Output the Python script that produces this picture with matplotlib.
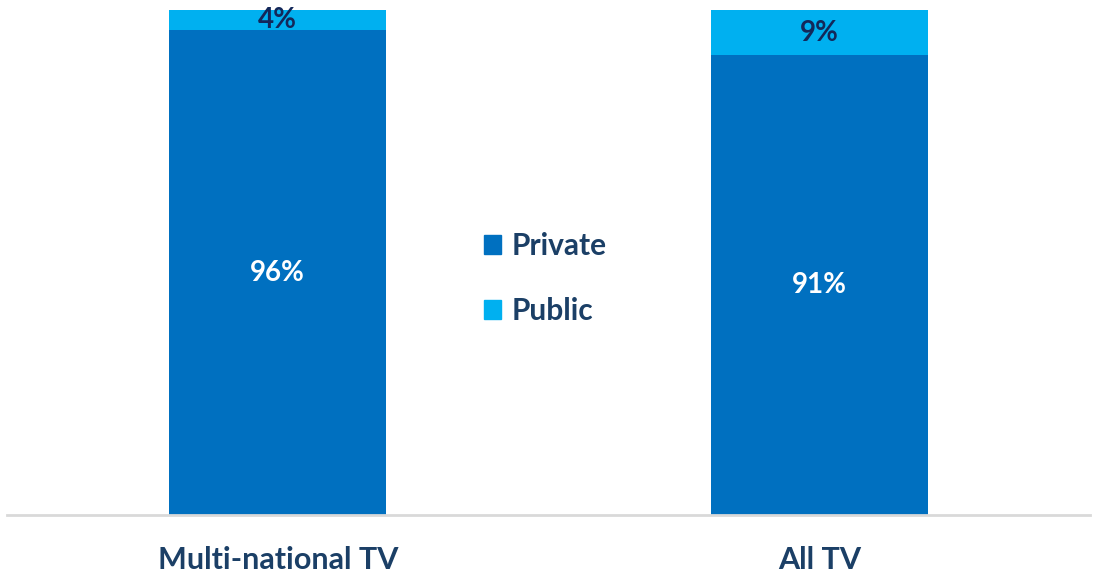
import matplotlib.pyplot as plt
from matplotlib.patches import Patch

# Data
categories = ["Multi-national TV", "All TV"]
private = [96, 91]
public = [4, 9]
series_names = ["Private", "Public"]

blue_dark = "#0070C0"
blue_light = "#00B0F0"
navy = "#1B3F66"

plt.rcParams["font.family"] = ["Lato", "DejaVu Sans"]

fig = plt.figure(figsize=(10.93, 5.76), dpi=100)
ax = fig.add_axes([7 / 1093, 61 / 576, 1083 / 1093, 505 / 576])

x = range(len(categories))
ax.bar(x, private, width=0.4, color=blue_dark, label=series_names[0])
ax.bar(x, public, width=0.4, bottom=private, color=blue_light, label=series_names[1])

# Value labels
for i in x:
    ax.text(i, private[i] / 2, f"{private[i]}%", ha="center", va="center",
            color="white", fontsize=20, fontweight="bold")
    ax.text(i, private[i] + public[i] / 2, f"{public[i]}%", ha="center", va="center",
            color="#13285A", fontsize=20, fontweight="bold")

ax.set_xlim(-0.5, 1.5)
ax.set_ylim(0, 100)
ax.set_xticks(list(x))
ax.set_xticklabels(categories, fontsize=22, fontweight="bold", color=navy)
ax.tick_params(axis="x", length=0, pad=22)
ax.set_yticks([])
for side in ["top", "right", "left"]:
    ax.spines[side].set_visible(False)
ax.spines["bottom"].set_color("#D9D9D9")
ax.spines["bottom"].set_linewidth(2)

handles = [Patch(color=blue_dark), Patch(color=blue_light)]
leg = ax.legend(handles, series_names, loc="center", bbox_to_anchor=(0.497, 0.468),
                frameon=False, fontsize=21.5, handlelength=0.6, handleheight=0.6,
                handletextpad=0.35, labelspacing=1.25)
for t in leg.get_texts():
    t.set_color(navy)
    t.set_fontweight("bold")

fig.savefig("out.png", dpi=100)
